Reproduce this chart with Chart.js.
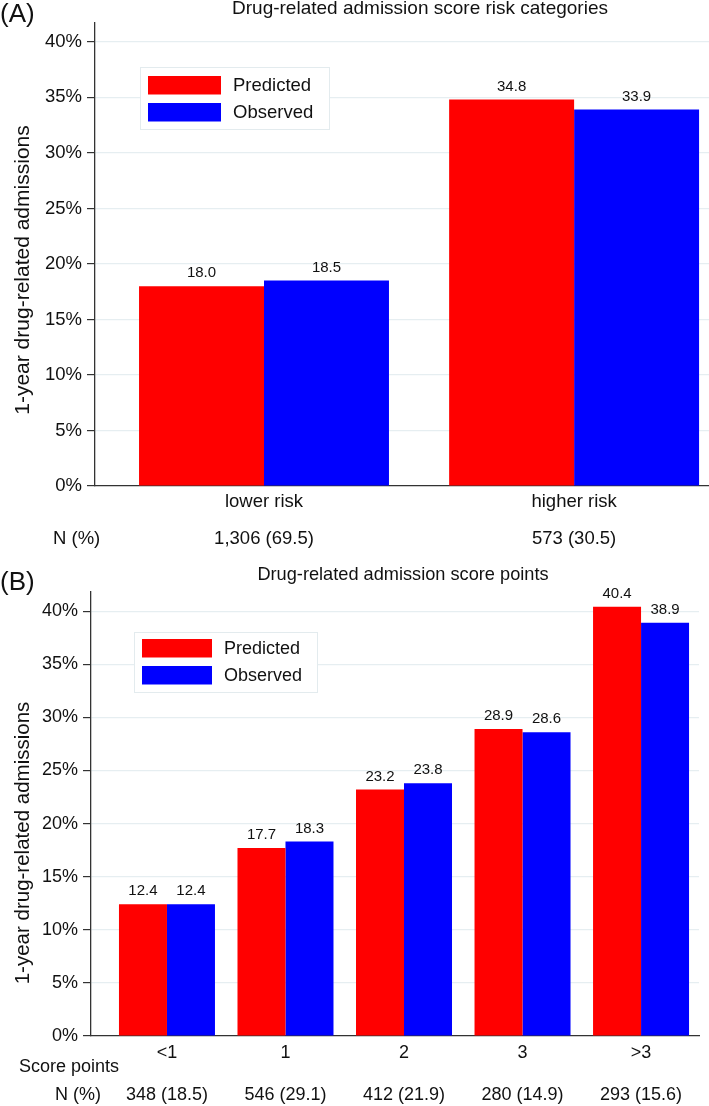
<!DOCTYPE html>
<html>
<head>
<meta charset="utf-8">
<title>Drug-related admission score</title>
<script src="https://cdn.jsdelivr.net/npm/chart.js@4.4.0/dist/chart.umd.min.js"></script>
<style>
  html, body { margin: 0; padding: 0; background: #fff; overflow: hidden; }
  canvas { position: absolute; left: 0; display: block; }
  #chartA { top: 0; }
  #chartB { top: 560px; }
</style>
</head>
<body>
<canvas id="chartA" width="709" height="560"></canvas>
<canvas id="chartB" width="709" height="546"></canvas>
<script>
// (A) risk categories
const riskCategories = ['lower risk', 'higher risk'];
const riskN = ['1,306 (69.5)', '573 (30.5)'];
const riskPredicted = [18.0, 34.8];
const riskObserved = [18.5, 33.9];

// (B) score points
const scoreCategories = ['<1', '1', '2', '3', '>3'];
const scoreN = ['348 (18.5)', '546 (29.1)', '412 (21.9)', '280 (14.9)', '293 (15.6)'];
const scorePredicted = [12.4, 17.7, 23.2, 28.9, 40.4];
const scoreObserved = [12.4, 18.3, 23.8, 28.6, 38.9];

const yTicks = [0, 5, 10, 15, 20, 25, 30, 35, 40];
const seriesNames = ['Predicted', 'Observed'];
const seriesColors = ['#ff0000', '#0000ff'];
const yTitle = '1-year drug-related admissions';

const FONT = '"Liberation Sans", Arial, Helvetica, sans-serif';
const AXIS = '#333333';
const GRID = '#e6eef1';
const INK = '#111111';

Chart.defaults.font.family = FONT;
Chart.defaults.color = INK;

// titles, value labels, legend box and row headers
const extras = {
  id: 'extras',
  afterDatasetsDraw(chart, args, o) {
    const ctx = chart.ctx;
    ctx.save();
    ctx.fillStyle = INK;
    ctx.font = o.valueSize + 'px ' + FONT;
    ctx.textAlign = 'center';
    ctx.textBaseline = 'middle';
    chart.data.datasets.forEach((ds, d) => {
      chart.getDatasetMeta(d).data.forEach((bar, i) => {
        ctx.fillText(ds.data[i].y.toFixed(1), bar.x, bar.y - 13);
      });
    });

    // legend
    const L = o.legend;
    ctx.fillStyle = '#fff';
    ctx.fillRect(L.x, L.y, L.w, L.h);
    ctx.strokeStyle = '#e3ebee';
    ctx.lineWidth = 1;
    ctx.strokeRect(L.x + 0.5, L.y + 0.5, L.w, L.h);
    ctx.font = L.size + 'px ' + FONT;
    ctx.textAlign = 'left';
    chart.data.datasets.forEach((ds, d) => {
      const sy = L.y + L.pad + d * L.pitch;
      ctx.fillStyle = ds.backgroundColor;
      ctx.fillRect(L.x + 8, sy, L.sw, L.sh);
      ctx.fillStyle = INK;
      ctx.fillText(ds.label, L.x + 8 + L.sw + 12, sy + L.sh / 2 + 1);
    });
    ctx.restore();
  },
  afterDraw(chart, args, o) {
    const ctx = chart.ctx;
    ctx.save();
    ctx.fillStyle = INK;
    ctx.textBaseline = 'middle';
    ctx.textAlign = 'left';
    ctx.font = '26px ' + FONT;
    ctx.fillText(o.panel, 0, o.panelY);
    ctx.textAlign = 'center';
    ctx.font = o.titleSize + 'px ' + FONT;
    ctx.fillText(o.title, o.titleX, o.titleY);
    ctx.textAlign = 'left';
    ctx.font = o.rowSize + 'px ' + FONT;
    o.rows.forEach(r => ctx.fillText(r.text, r.x, r.y));

    // rotated y axis title
    ctx.translate(o.yTitleX, o.yTitleY);
    ctx.rotate(-Math.PI / 2);
    ctx.textAlign = 'center';
    ctx.font = o.yTitleSize + 'px ' + FONT;
    ctx.fillText(yTitle, 0, 0);
    ctx.restore();
  }
};

function makeChart(id, p) {
  const xs = p.categories.map((c, i) => i);
  const series = [p.predicted, p.observed];
  return new Chart(document.getElementById(id), {
    type: 'bar',
    data: {
      datasets: series.map((vals, d) => ({
        label: seriesNames[d],
        data: vals.map((v, i) => ({ x: i, y: v })),
        backgroundColor: seriesColors[d],
        borderWidth: 0,
        categoryPercentage: p.catPct,
        barPercentage: 1.0
      }))
    },
    options: {
      responsive: false,
      animation: false,
      devicePixelRatio: 1,
      layout: { padding: { top: p.top, right: p.right, left: 0, bottom: 0 } },
      scales: {
        x: {
          type: 'linear',
          min: p.xMin,
          max: p.xMax,
          offset: false,
          z: 1,
          afterBuildTicks: s => { s.ticks = xs.map(v => ({ value: v })); },
          afterFit: s => { s.height = p.xHeight; },
          grid: { display: false, offset: false, drawTicks: false },
          border: { display: true, color: AXIS, width: 1.3 },
          ticks: {
            autoSkip: false,
            maxRotation: 0,
            padding: p.xPad,
            color: INK,
            font: { size: p.xSize, lineHeight: p.xLine },
            callback: v => [p.categories[v], '', p.n[v]]
          }
        },
        y: {
          min: 0,
          max: p.yMax,
          afterBuildTicks: s => { s.ticks = yTicks.map(v => ({ value: v })); },
          afterFit: s => { s.width = p.yWidth; },
          grid: {
            color: c => (c.tick && c.tick.value === 0) ? 'rgba(0,0,0,0)' : GRID,
            tickColor: AXIS,
            tickLength: 8,
            lineWidth: 1.2
          },
          border: { color: AXIS, width: 1.3 },
          ticks: { padding: 5, color: INK, font: { size: p.ySize }, callback: v => v + '%' }
        }
      },
      plugins: {
        legend: { display: false },
        tooltip: { enabled: false },
        extras: p.extras
      }
    },
    plugins: [extras]
  });
}

makeChart('chartA', {
  categories: riskCategories, n: riskN,
  predicted: riskPredicted, observed: riskObserved,
  catPct: 0.806, top: 23, right: 0,
  xMin: -0.545, xMax: 1.435, xHeight: 74, xPad: 6.5, xSize: 18.5, xLine: 1.0,
  yMax: 41.7, yWidth: 95, ySize: 18.5,
  extras: {
    valueSize: 15,
    panel: '(A)', panelY: 15,
    title: 'Drug-related admission score risk categories', titleX: 420, titleY: 9, titleSize: 19,
    yTitleX: 23, yTitleY: 270, yTitleSize: 21,
    rowSize: 18.5,
    rows: [{ text: 'N (%)', x: 53, y: 539 }],
    legend: { x: 140, y: 67, w: 189, h: 62, pad: 9, pitch: 27, sw: 73, sh: 18.5, size: 18.5 }
  }
});

makeChart('chartB', {
  categories: scoreCategories, n: scoreN,
  predicted: scorePredicted, observed: scoreObserved,
  catPct: 0.81, top: 32, right: 10,
  xMin: -0.641, xMax: 4.489, xHeight: 70, xPad: 6.5, xSize: 18, xLine: 21 / 18,
  yMax: 41.8, yWidth: 91, ySize: 18,
  extras: {
    valueSize: 15,
    panel: '(B)', panelY: 23,
    title: 'Drug-related admission score points', titleX: 403, titleY: 15, titleSize: 18.2,
    yTitleX: 23, yTitleY: 283, yTitleSize: 20.5,
    rowSize: 18,
    rows: [{ text: 'Score points', x: 19, y: 507 }, { text: 'N (%)', x: 55, y: 535 }],
    legend: { x: 134, y: 72, w: 183, h: 60, pad: 7, pitch: 27, sw: 70, sh: 18.5, size: 18 }
  }
});
</script>
</body>
</html>
